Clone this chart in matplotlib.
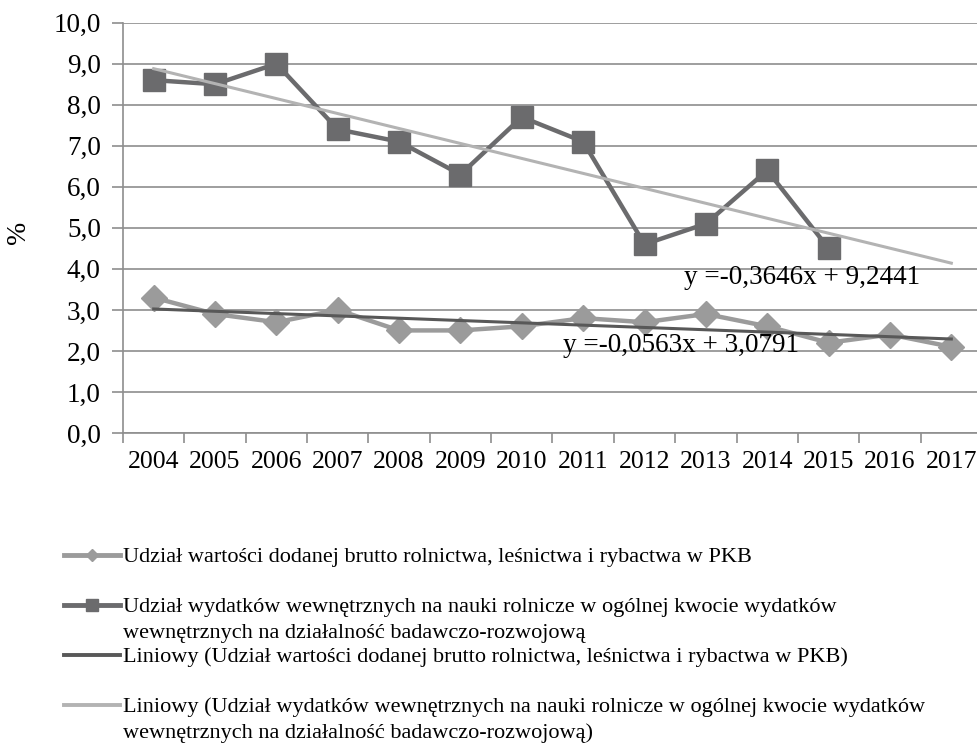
import matplotlib
matplotlib.use("Agg")
import matplotlib.pyplot as plt
from matplotlib.lines import Line2D
from matplotlib.ticker import FuncFormatter, FixedLocator
import numpy as np

plt.rcParams['font.family'] = ['Liberation Serif', 'DejaVu Serif']

years = ['2004', '2005', '2006', '2007', '2008', '2009', '2010',
         '2011', '2012', '2013', '2014', '2015', '2016', '2017']
gva_share = [3.3, 2.9, 2.7, 3.0, 2.5, 2.5, 2.6, 2.8, 2.7, 2.9, 2.6, 2.2, 2.4, 2.1]
rd_share = [8.6, 8.5, 9.0, 7.4, 7.1, 6.3, 7.7, 7.1, 4.6, 5.1, 6.4, 4.5]
trend_gva = (-0.0563, 3.0791)
trend_rd = (-0.3646, 9.2441)
eq_gva = 'y =-0,0563x + 3,0791'
eq_rd = 'y =-0,3646x + 9,2441'
labels = [
    'Udział wartości dodanej brutto rolnictwa, leśnictwa i rybactwa w PKB',
    'Udział wydatków wewnętrznych na nauki rolnicze w ogólnej kwocie wydatków\nwewnętrznych na działalność badawczo-rozwojową',
    'Liniowy (Udział wartości dodanej brutto rolnictwa, leśnictwa i rybactwa w PKB)',
    'Liniowy (Udział wydatków wewnętrznych na nauki rolnicze w ogólnej kwocie wydatków\nwewnętrznych na działalność badawczo-rozwojową)',
]

c_gva = '#9b9b9b'
c_rd = '#6b6b6d'
c_tr_gva = '#585858'
c_tr_rd = '#b3b3b3'
grid_c = '#8e8e8e'

W, H = 977, 747
fig = plt.figure(figsize=(W / 100, H / 100), dpi=100)
left, right, bottom, top = 123, 982, 433, 22.7
ax = fig.add_axes([left / W, 1 - bottom / H, (right - left) / W, (bottom - top) / H])

x_all = np.arange(1, len(years) + 1)
x_rd = np.arange(1, len(rd_share) + 1)

ax.plot(x_all, gva_share, color=c_gva, lw=3.2, marker='D', ms=13,
        mfc=c_gva, mec=c_gva, zorder=3)
ax.plot(x_rd, rd_share, color=c_rd, lw=3.2, marker='s', ms=16,
        mfc=c_rd, mec=c_rd, zorder=4)
ax.plot(x_all, trend_gva[0] * x_all + trend_gva[1], color=c_tr_gva, lw=2.2, zorder=5)
ax.plot(x_all, trend_rd[0] * x_all + trend_rd[1], color=c_tr_rd, lw=2.2, zorder=5)

ax.set_xlim(0.5, len(years) + 0.5)
ax.set_ylim(0, 10)
ax.yaxis.set_major_locator(FixedLocator(np.arange(0, 10.01, 1.0)))
ax.yaxis.set_major_formatter(FuncFormatter(lambda v, p: f'{v:.1f}'.replace('.', ',')))
ax.set_xticks(x_all)
ax.set_xticklabels(years)
ax.set_xticks(np.arange(0.5, len(years) + 1, 1), minor=True)
ax.tick_params(axis='x', which='major', length=0, pad=13, labelsize=18.5)
ax.tick_params(axis='x', which='minor', length=7, width=1.2, color=grid_c)
ax.tick_params(axis='y', which='major', length=8, width=1.2, color=grid_c, labelsize=19.5, pad=8)
ax.grid(axis='y', color=grid_c, lw=1.2)
ax.set_axisbelow(True)
for s in ['top', 'right']:
    ax.spines[s].set_visible(False)
for s in ['left', 'bottom']:
    ax.spines[s].set_color(grid_c)
    ax.spines[s].set_linewidth(1.2)

ax.text(11.57, 3.8, eq_rd, fontsize=19.5, ha='center', va='center', zorder=6)
ax.text(9.59, 2.14, eq_gva, fontsize=19.5, ha='center', va='center', zorder=6)

fig.text(18 / W, 1 - 232 / H, '%', rotation=90, fontsize=20, ha='center', va='center')

# legend
leg_y = [555, 605, 655, 705]
line_step = 26
styles = [
    dict(color=c_gva, lw=3.5, marker='D', ms=6),
    dict(color=c_rd, lw=3.5, marker='s', ms=8),
    dict(color=c_tr_gva, lw=2.8),
    dict(color=c_tr_rd, lw=2.8),
]
for y, lab, st in zip(leg_y, labels, styles):
    yf = 1 - y / H
    fig.add_artist(Line2D([64 / W, 120 / W], [yf, yf], transform=fig.transFigure,
                          color=st['color'], lw=st['lw']))
    if st.get('marker'):
        fig.add_artist(Line2D([92 / W], [yf], transform=fig.transFigure,
                              linestyle='none', marker=st['marker'], ms=st['ms'],
                              color=st['color']))
    for i, part in enumerate(lab.split('\n')):
        fig.text(123 / W, 1 - (y + i * line_step) / H, part, fontsize=16,
                 ha='left', va='center_baseline')

fig.savefig('out.png', dpi=100)
